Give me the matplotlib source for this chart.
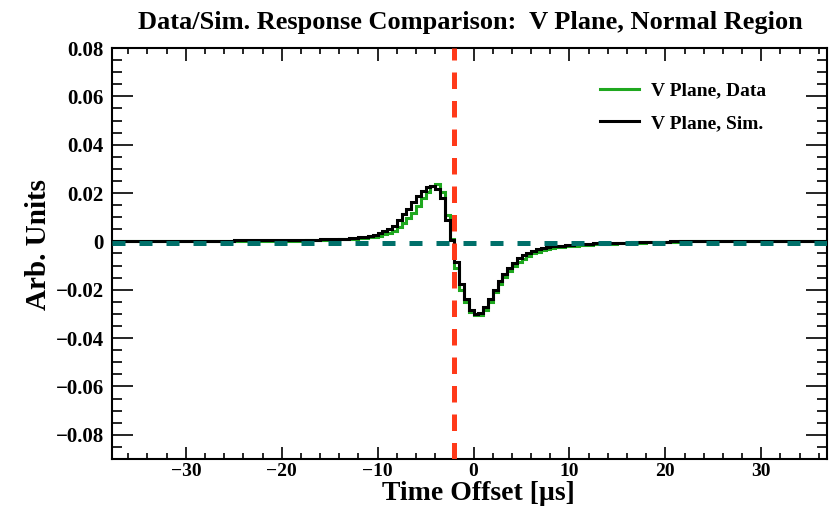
import numpy as np
import matplotlib
matplotlib.use("Agg")
import matplotlib.pyplot as plt
from matplotlib.ticker import MultipleLocator

plt.rcParams['font.family'] = ['Liberation Serif', 'DejaVu Serif']
plt.rcParams['font.weight'] = 'bold'

# 0.5 us bins
bin_edges = np.arange(-38.0, 37.01, 0.5)

sim_values = (
    [0.0003] * 26 + [0.0004] * 10 +
    [0.0005, 0.0005, 0.0005, 0.0006, 0.0006, 0.0006, 0.0007, 0.0007, 0.0008, 0.0008] +
    [0.0009, 0.0010, 0.0011, 0.0012, 0.0013, 0.0015, 0.0017, 0.0019] +
    [0.0023, 0.0028, 0.0034, 0.0042, 0.0052, 0.0064] +
    [0.0088, 0.0112, 0.0136, 0.0163, 0.0188, 0.0210, 0.0224, 0.0229,
     0.0218, 0.0178, 0.0090, 0.0005, -0.0085, -0.0175, -0.0240, -0.0285] +
    [-0.0300, -0.0298, -0.0270, -0.0238, -0.0200, -0.0165, -0.0135, -0.0110,
     -0.0088, -0.0070, -0.0057, -0.0047, -0.0039, -0.0033, -0.0028, -0.0024] +
    [-0.0021, -0.0019, -0.0017, -0.0015, -0.0013, -0.0012, -0.0011, -0.0010,
     -0.0009, -0.0008, -0.0008, -0.0007, -0.0007, -0.0006, -0.0006, -0.0005] +
    [-0.0005, -0.0004, -0.0004, -0.0003, -0.0003, -0.0002, -0.0002, -0.0001,
     -0.0001, 0.0, 0.0, 0.0001, 0.0001, 0.0001, 0.0002, 0.0002] +
    [0.0002] * 26
)

data_values = (
    [0.0001] * 26 + [0.0002] * 10 +
    [0.0002, 0.0002, 0.0003, 0.0003, 0.0003, 0.0004, 0.0004, 0.0005, 0.0005, 0.0006] +
    [0.0006, 0.0007, 0.0008, 0.0009, 0.0010, 0.0011, 0.0013, 0.0015] +
    [0.0017, 0.0020, 0.0024, 0.0029, 0.0035, 0.0044] +
    [0.0058, 0.0075, 0.0095, 0.0118, 0.0145, 0.0178, 0.0205, 0.0230,
     0.0236, 0.0205, 0.0110, 0.0010, -0.0110, -0.0200, -0.0250, -0.0290] +
    [-0.0306, -0.0306, -0.0285, -0.0250, -0.0210, -0.0178, -0.0148, -0.0122,
     -0.0102, -0.0085, -0.0072, -0.0060, -0.0050, -0.0043, -0.0037, -0.0032] +
    [-0.0028, -0.0025, -0.0023, -0.0021, -0.0019, -0.0017, -0.0016, -0.0014,
     -0.0013, -0.0012, -0.0011, -0.0010, -0.0009, -0.0009, -0.0008, -0.0008] +
    [-0.0007, -0.0006, -0.0006, -0.0005, -0.0004, -0.0004, -0.0003, -0.0002,
     -0.0002, -0.0001, -0.0001, 0.0, 0.0, 0.0, 0.0001, 0.0001] +
    [0.0001] * 26
)

peak_time = -2.0       # vertical marker position [us]
baseline_level = -0.0008

fig = plt.figure(figsize=(8.35, 5.09), dpi=100)
ax = fig.add_axes([112 / 835, 1 - 459 / 509, (827 - 112) / 835, (459 - 48) / 509])

ax.stairs(data_values, bin_edges, color='#1fa81f', linewidth=2.2, label='V Plane, Data', zorder=3)
ax.stairs(sim_values, bin_edges, color='black', linewidth=2.2, label='V Plane, Sim.', zorder=4)

ax.axvline(peak_time, color='#ff3a1a', linewidth=3.6, dashes=(3.3, 2.4), zorder=5)
ax.axhline(baseline_level, color='#00706a', linewidth=3.6, dashes=(2.6, 2.8), zorder=5)

ax.set_xlim(-37.7, 36.85)
ax.set_ylim(-0.09, 0.08)

ax.xaxis.set_major_locator(MultipleLocator(10))
ax.xaxis.set_minor_locator(MultipleLocator(2))
ax.yaxis.set_major_locator(MultipleLocator(0.02))
ax.yaxis.set_minor_locator(MultipleLocator(0.005))

def fmt_y(v, pos):
    if abs(v) < 1e-9:
        return '0'
    return ('\u2212' if v < 0 else '') + f'{abs(v):.2f}'

def fmt_x(v, pos):
    return ('\u2212' if v < 0 else '') + f'{abs(v):.0f}'

ax.yaxis.set_major_formatter(fmt_y)
ax.xaxis.set_major_formatter(fmt_x)

ax.tick_params(axis='both', which='both', direction='in', top=True, right=True,
               width=1.2, labelsize=15)
ax.tick_params(axis='x', which='major', length=9, pad=3, labelsize=14)
ax.tick_params(axis='x', which='minor', length=4.5)
ax.tick_params(axis='y', which='major', length=15, pad=6)
ax.tick_params(axis='y', which='minor', length=7.5)
for sp in ax.spines.values():
    sp.set_linewidth(1.5)

fig.text(478 / 835, 1 - 494 / 509, 'Time Offset [\u00b5s]', ha='center', va='center',
         fontsize=20, fontweight='bold')
fig.text(38 / 835, 1 - 245 / 509, 'Arb. Units', ha='center', va='center', rotation=90,
         fontsize=21, fontweight='bold')

fig.text(470 / 835, 1 - 22 / 509, 'Data/Sim. Response Comparison:  V Plane, Normal Region',
         ha='center', va='center', fontsize=19, fontweight='bold')

leg = ax.legend(loc='upper left', bbox_to_anchor=(0.658, 0.96), frameon=False,
                fontsize=14, handlelength=2.0, labelspacing=0.75, handletextpad=0.6)

fig.savefig('out.png', dpi=100)
